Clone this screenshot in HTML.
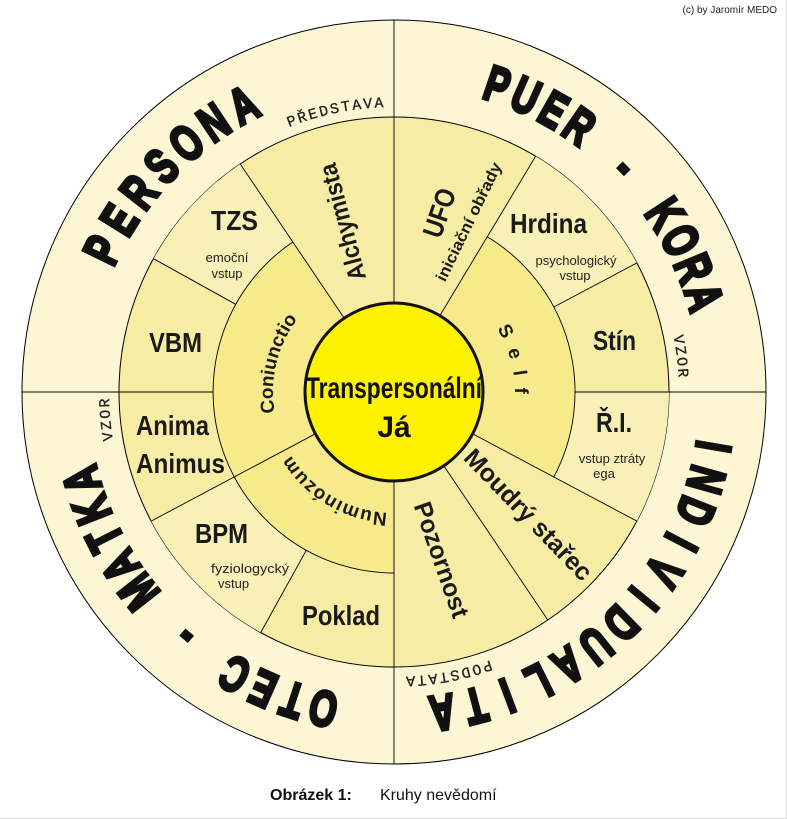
<!DOCTYPE html>
<html><head><meta charset="utf-8"><style>
html,body{margin:0;padding:0;background:#fff;}
svg{display:block;}
.big{font-family:"Liberation Sans Narrow","Liberation Sans",sans-serif;font-weight:bold;font-size:28px;fill:#1a1a1a;}
.sm{font-family:"Liberation Sans",sans-serif;font-size:13px;fill:#222;}
.mono{font-family:"Liberation Mono",monospace;font-size:15px;fill:#222;letter-spacing:2px;stroke:#222;stroke-width:0.3;}
.cur{font-family:"Liberation Sans",sans-serif;font-weight:bold;font-size:19px;fill:#1a1a1a;}
</style></head><body>
<svg width="787" height="819" viewBox="0 0 787 819" xmlns="http://www.w3.org/2000/svg">
<defs>
<path id="r285" d="M394,677 A285,285 0 1 1 394,107 A285,285 0 1 1 394,677"/>
<path id="r121" d="M394,513 A121,121 0 1 1 394,271 A121,121 0 1 1 394,513"/>
</defs>
<rect x="786" y="0" width="1" height="819" fill="#ddd"/>
<rect x="0" y="818" width="787" height="1" fill="#ddd"/>
<text x="777" y="13" text-anchor="end" style="font-family:'Liberation Sans',sans-serif;font-size:10px;fill:#222">(c) by  Jaromír MEDO</text>

<circle cx="394" cy="392" r="372" fill="#FCF6D5" stroke="#000" stroke-width="1"/>
<circle cx="394" cy="392" r="275" fill="#F6ECA4" stroke="#000" stroke-width="1"/>
<g fill="#F8F0B6">
<path d="M153.5,258.7 A275,275 0 0 1 240.2,164 L292.8,242 A181,181 0 0 0 235.7,304.3 Z"/>
<path d="M260.7,632.5 A275,275 0 0 1 151.2,521.1 L234.2,477 A181,181 0 0 0 306.3,550.3 Z"/>
<path d="M535.6,156.3 A275,275 0 0 1 636.8,262.9 L553.8,307 A181,181 0 0 0 487.2,236.8 Z"/>
<path d="M669,392 A275,275 0 0 1 636.8,521.1 L553.8,477 A181,181 0 0 0 575,392 Z"/>
</g>
<circle cx="394" cy="392" r="181" fill="#F6EA8A"/>
<path d="M394,392 L292.8,242 A181,181 0 0 1 487.2,236.8 Z" fill="#F6ECA4"/>
<path d="M394,392 L553.8,477 A181,181 0 0 1 394,573 Z" fill="#F6ECA4"/>
<g stroke="#000" stroke-width="0.9" fill="none">
<path d="M487.2,236.8 A181,181 0 0 1 553.8,477"/>
<path d="M394,573 A181,181 0 0 1 292.8,242"/>
<line x1="394" y1="20" x2="394" y2="764"/>
<line x1="22" y1="392" x2="213" y2="392"/>
<line x1="575" y1="392" x2="766" y2="392"/>
<line x1="394" y1="392" x2="240.2" y2="164"/>
<line x1="394" y1="392" x2="535.6" y2="156.3"/>
<line x1="394" y1="392" x2="151.2" y2="521.1"/>
<line x1="394" y1="392" x2="636.8" y2="521.1"/>
<line x1="394" y1="392" x2="547.8" y2="620"/>
<line x1="235.7" y1="304.3" x2="153.5" y2="258.7"/>
<line x1="553.8" y1="307" x2="636.8" y2="262.9"/>
<line x1="306.3" y1="550.3" x2="260.7" y2="632.5"/>
</g>
<circle cx="394" cy="392" r="89" fill="#FFF200" stroke="#111" stroke-width="3"/>

<text x="394" y="398" text-anchor="middle" textLength="176" lengthAdjust="spacingAndGlyphs" style="font-family:'Liberation Sans Narrow','Liberation Sans',sans-serif;font-weight:bold;font-size:30px;fill:#111">Transpersonální</text>
<text x="394" y="437" text-anchor="middle" style="font-family:'Liberation Sans Narrow','Liberation Sans',sans-serif;font-weight:bold;font-size:30px;fill:#111">Já</text>

<text class="big" x="211" y="230" textLength="47" lengthAdjust="spacingAndGlyphs">TZS</text>
<text class="sm" x="227" y="262" text-anchor="middle">emoční</text>
<text class="sm" x="227" y="278" text-anchor="middle">vstup</text>
<text class="big" x="149" y="352" textLength="53" lengthAdjust="spacingAndGlyphs">VBM</text>
<text class="big" x="136" y="435" textLength="73" lengthAdjust="spacingAndGlyphs">Anima</text>
<text class="big" x="136" y="473" textLength="89" lengthAdjust="spacingAndGlyphs">Animus</text>
<text class="big" x="195" y="543" textLength="53" lengthAdjust="spacingAndGlyphs">BPM</text>
<text class="sm" x="211" y="573" textLength="78" lengthAdjust="spacingAndGlyphs">fyziologycký</text>
<text class="sm" x="218" y="588">vstup</text>
<text class="big" x="302" y="625" textLength="78" lengthAdjust="spacingAndGlyphs">Poklad</text>
<text class="big" x="510" y="233" textLength="77" lengthAdjust="spacingAndGlyphs">Hrdina</text>
<text class="sm" x="576" y="265" text-anchor="middle">psychologický</text>
<text class="sm" x="575" y="280" text-anchor="middle">vstup</text>
<text class="big" x="593" y="350" textLength="43" lengthAdjust="spacingAndGlyphs">Stín</text>
<text class="big" x="596" y="432" textLength="36" lengthAdjust="spacingAndGlyphs">Ř.I.</text>
<text class="sm" x="612" y="463" text-anchor="middle">vstup ztráty</text>
<text class="sm" x="604" y="478" text-anchor="middle">ega</text>

<text class="big" transform="translate(343 222) rotate(-105)" x="0" y="8" text-anchor="middle" textLength="120" lengthAdjust="spacingAndGlyphs" style="font-size:25px">Alchymista</text>
<text class="big" transform="translate(440 213) rotate(-71)" x="0" y="9" text-anchor="middle" textLength="50" lengthAdjust="spacingAndGlyphs">UFO</text>
<text class="big" transform="translate(469 222) rotate(-64)" x="0" y="5" text-anchor="middle" textLength="130" lengthAdjust="spacingAndGlyphs" style="font-size:16px">iniciační obřady</text>
<text class="big" transform="translate(441 560) rotate(70.7)" x="0" y="8" text-anchor="middle" textLength="121" lengthAdjust="spacingAndGlyphs" style="font-size:25px">Pozornost</text>
<text class="big" transform="translate(528 515) rotate(46)" x="0" y="8" text-anchor="middle" textLength="172" lengthAdjust="spacingAndGlyphs" style="font-size:25px">Moudrý stařec</text>

<text class="cur"><textPath href="#r121" startOffset="218.8" text-anchor="middle">Coniunctio</textPath></text>
<text class="cur" style="letter-spacing:3px"><textPath href="#r121" startOffset="539" text-anchor="middle">S e l f</textPath></text>
<text class="cur" style="letter-spacing:1px"><textPath href="#r121" startOffset="65.5" text-anchor="middle">Numinózum</textPath></text>

<text class="mono"><textPath href="#r285" startOffset="837" text-anchor="middle">PŘEDSTAVA</textPath></text>
<text class="mono"><textPath href="#r285" startOffset="1308" text-anchor="middle">VZOR</textPath></text>
<text class="mono"><textPath href="#r285" startOffset="421" text-anchor="middle">VZOR</textPath></text>
<text class="mono"><textPath href="#r285" startOffset="1736" text-anchor="middle">PODSTATA</textPath></text>

<g text-anchor="middle" font-family="Liberation Sans, sans-serif" font-weight="bold" font-size="50" fill="#111" stroke="#111" stroke-width="3.5" stroke-linejoin="miter">
<text transform="translate(394 392) rotate(-64) translate(0 -307) scale(0.7 1)">P</text>
<text transform="translate(394 392) rotate(-57.95) translate(0 -307) scale(0.7 1)">E</text>
<text transform="translate(394 392) rotate(-51.9) translate(0 -307) scale(0.7 1)">R</text>
<text transform="translate(394 392) rotate(-45.85) translate(0 -307) scale(0.7 1)">S</text>
<text transform="translate(394 392) rotate(-39.8) translate(0 -307) scale(0.7 1)">O</text>
<text transform="translate(394 392) rotate(-33.75) translate(0 -307) scale(0.7 1)">N</text>
<text transform="translate(394 392) rotate(-27.7) translate(0 -307) scale(0.7 1)">A</text>

<text transform="translate(394 392) rotate(18.6) translate(0 -307) scale(0.7 1)">P</text>
<text transform="translate(394 392) rotate(24.0) translate(0 -307) scale(0.7 1)">U</text>
<text transform="translate(394 392) rotate(29.5) translate(0 -307) scale(0.7 1)">E</text>
<text transform="translate(394 392) rotate(34.9) translate(0 -307) scale(0.7 1)">R</text>
<text transform="translate(394 392) rotate(45.8) translate(0 -307) scale(0.7 1)">-</text>
<text transform="translate(394 392) rotate(56.7) translate(0 -307) scale(0.7 1)">K</text>
<text transform="translate(394 392) rotate(62.1) translate(0 -307) scale(0.7 1)">O</text>
<text transform="translate(394 392) rotate(67.6) translate(0 -307) scale(0.7 1)">R</text>
<text transform="translate(394 392) rotate(73.0) translate(0 -307) scale(0.7 1)">A</text>

<text transform="translate(394 392) rotate(99.7) translate(0 -307) scale(0.7 1)">I</text>
<text transform="translate(394 392) rotate(105.7) translate(0 -307) scale(0.7 1)">N</text>
<text transform="translate(394 392) rotate(111.6) translate(0 -307) scale(0.7 1)">D</text>
<text transform="translate(394 392) rotate(117.6) translate(0 -307) scale(0.7 1)">I</text>
<text transform="translate(394 392) rotate(123.6) translate(0 -307) scale(0.7 1)">V</text>
<text transform="translate(394 392) rotate(129.6) translate(0 -307) scale(0.7 1)">I</text>
<text transform="translate(394 392) rotate(135.6) translate(0 -307) scale(0.7 1)">D</text>
<text transform="translate(394 392) rotate(141.5) translate(0 -307) scale(0.7 1)">U</text>
<text transform="translate(394 392) rotate(147.5) translate(0 -307) scale(0.7 1)">A</text>
<text transform="translate(394 392) rotate(153.5) translate(0 -307) scale(0.7 1)">L</text>
<text transform="translate(394 392) rotate(159.5) translate(0 -307) scale(0.7 1)">I</text>
<text transform="translate(394 392) rotate(165.4) translate(0 -307) scale(0.7 1)">T</text>
<text transform="translate(394 392) rotate(171.4) translate(0 -307) scale(0.7 1)">A</text>

<text transform="translate(394 392) rotate(192.6) translate(0 -307) scale(0.7 1)">O</text>
<text transform="translate(394 392) rotate(198.2) translate(0 -307) scale(0.7 1)">T</text>
<text transform="translate(394 392) rotate(203.8) translate(0 -307) scale(0.7 1)">E</text>
<text transform="translate(394 392) rotate(209.4) translate(0 -307) scale(0.7 1)">C</text>
<text transform="translate(394 392) rotate(220.4) translate(0 -307) scale(0.7 1)">-</text>
<text transform="translate(394 392) rotate(231.9) translate(0 -307) scale(0.7 1)">M</text>
<text transform="translate(394 392) rotate(237.5) translate(0 -307) scale(0.7 1)">A</text>
<text transform="translate(394 392) rotate(243.1) translate(0 -307) scale(0.7 1)">T</text>
<text transform="translate(394 392) rotate(248.7) translate(0 -307) scale(0.7 1)">K</text>
<text transform="translate(394 392) rotate(254.3) translate(0 -307) scale(0.7 1)">A</text>
</g>

<text x="270" y="800" style="font-family:'Liberation Sans',sans-serif;font-size:16px;fill:#111"><tspan font-weight="bold">Obrázek 1:</tspan><tspan x="380">Kruhy nevědomí</tspan></text>
</svg>
</body></html>
